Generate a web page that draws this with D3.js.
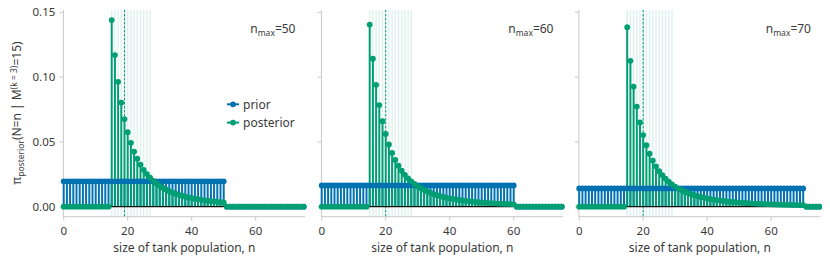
<!DOCTYPE html>
<html>
<head>
<meta charset="utf-8">
<script src="https://cdn.jsdelivr.net/npm/d3@7"></script>
<style>
  body { margin: 0; background: #fff; }
  text { font-family: "Noto Sans", "Open Sans", sans-serif; fill: #3a3a3a; }
</style>
</head>
<body>
<div id="chart"></div>
<script>
// values
var nmaxList = [50, 60, 70];
var priorLevel = [0.01961, 0.01639, 0.01408];
var firstN = 15;     // posterior is zero below the observed max serial
var lastN = 75;
var credible = [[15, 27], [15, 28], [15, 29]];
var medianN = [19, 20, 20];
var xTicks = [0, 20, 40, 60];
var yTicks = [0, 0.05, 0.10, 0.15];

// posterior for n = 15 .. nmax
var post50 = [0.14403, 0.11703, 0.09638, 0.08031, 0.06763, 0.05749, 0.04927, 0.04256, 0.03700, 0.03238,
  0.02849, 0.02521, 0.02241, 0.02000, 0.01794, 0.01614, 0.01458, 0.01321, 0.01201, 0.01095,
  0.01001, 0.00918, 0.00843, 0.00777, 0.00717, 0.00663, 0.00615, 0.00571, 0.00531, 0.00495,
  0.00462, 0.00432, 0.00404, 0.00379, 0.00356, 0.00334];
var post60 = [0.14056, 0.11420, 0.09405, 0.07838, 0.06600, 0.05610, 0.04809, 0.04153, 0.03611, 0.03160,
  0.02781, 0.02460, 0.02186, 0.01952, 0.01750, 0.01575, 0.01423, 0.01289, 0.01172, 0.01069,
  0.00977, 0.00896, 0.00823, 0.00758, 0.00700, 0.00647, 0.00600, 0.00557, 0.00518, 0.00483,
  0.00451, 0.00421, 0.00394, 0.00370, 0.00347, 0.00326, 0.00307, 0.00289, 0.00273, 0.00258,
  0.00244, 0.00231, 0.00219, 0.00207, 0.00197, 0.00187];
var post70 = [0.13855, 0.11257, 0.09271, 0.07726, 0.06506, 0.05530, 0.04740, 0.04094, 0.03560, 0.03115,
  0.02741, 0.02425, 0.02155, 0.01924, 0.01725, 0.01553, 0.01402, 0.01271, 0.01155, 0.01054,
  0.00963, 0.00883, 0.00811, 0.00747, 0.00690, 0.00638, 0.00591, 0.00549, 0.00511, 0.00476,
  0.00444, 0.00415, 0.00389, 0.00364, 0.00342, 0.00322, 0.00303, 0.00285, 0.00269, 0.00254,
  0.00240, 0.00227, 0.00215, 0.00204, 0.00194, 0.00184, 0.00175, 0.00167, 0.00159, 0.00151,
  0.00144, 0.00138, 0.00132, 0.00126, 0.00120, 0.00115];
var posteriors = [post50, post60, post70];

var blue = "#0072b2", green = "#009e73";
var W = 830, H = 266;
var panelLeft = [63.7, 321.7, 579.2];

var svg = d3.select("#chart").append("svg")
  .attr("width", W).attr("height", H);

var y = d3.scaleLinear().domain([0, 0.15]).range([206.7, 12.3]);
var yTop = 10, yBot = 216.7;

nmaxList.forEach(function(nmax, p) {
  var x = d3.scaleLinear().domain([0, 75]).range([panelLeft[p], panelLeft[p] + 240]);
  var g = svg.append("g");

  var ns = d3.range(0, lastN + 1);
  var data = ns.map(function(n) {
    return {
      n: n,
      prior: n <= nmax ? priorLevel[p] : 0,
      post: (n >= firstN && n <= nmax) ? posteriors[p][n - firstN] : 0
    };
  });

  // credible interval, faint lines
  g.selectAll("line.ci")
    .data(ns.filter(function(n) { return n >= credible[p][0] && n <= credible[p][1]; }))
    .enter().append("line")
    .attr("x1", function(d) { return x(d); }).attr("x2", function(d) { return x(d); })
    .attr("y1", yTop).attr("y2", yBot)
    .attr("stroke", green).attr("stroke-opacity", 0.13).attr("stroke-width", 1.5);

  // median
  g.append("line")
    .attr("x1", x(medianN[p])).attr("x2", x(medianN[p]))
    .attr("y1", yTop).attr("y2", yBot)
    .attr("stroke", green).attr("stroke-width", 1)
    .attr("stroke-dasharray", "2.5,1.5");

  // spines
  g.append("line").attr("x1", x(-0.1)).attr("x2", x(-0.1)).attr("y1", yTop).attr("y2", yBot)
    .attr("stroke", "#c8c8c8").attr("stroke-width", 1);
  g.append("line").attr("x1", x(-0.1)).attr("x2", x(75.4)).attr("y1", yBot).attr("y2", yBot)
    .attr("stroke", "#c8c8c8").attr("stroke-width", 1);

  // x ticks
  var xt = g.selectAll("g.xt").data(xTicks).enter().append("g")
    .attr("transform", function(d) { return "translate(" + x(d) + ",0)"; });
  xt.append("line").attr("y1", yBot).attr("y2", yBot + 4).attr("stroke", "#c8c8c8");
  xt.append("text").attr("y", 235).attr("text-anchor", "middle")
    .style("font-size", "11.5px").text(function(d) { return d; });

  g.append("text").attr("x", x(37.7)).attr("y", 251.5).attr("text-anchor", "middle")
    .style("font-size", "12px").text("size of tank population, n");

  // y ticks
  var yt = g.selectAll("g.yt").data(yTicks).enter().append("g")
    .attr("transform", function(d) { return "translate(0," + y(d) + ")"; });
  yt.append("line").attr("x1", x(-0.1)).attr("x2", x(-0.1) - 4).attr("stroke", "#c8c8c8");
  if (p === 0) {
    yt.append("text").attr("x", x(-0.1) - 8).attr("dy", "0.35em").attr("text-anchor", "end")
      .style("font-size", "11.5px").text(function(d) { return d3.format(".2f")(d); });
  }

  // prior stems
  g.selectAll("line.ps").data(data.filter(function(d) { return d.prior > 0; }))
    .enter().append("line")
    .attr("x1", function(d) { return x(d.n); }).attr("x2", function(d) { return x(d.n); })
    .attr("y1", y(0)).attr("y2", function(d) { return y(d.prior); })
    .attr("stroke", blue).attr("stroke-width", 2);

  // posterior stems
  g.selectAll("line.qs").data(data.filter(function(d) { return d.post > 0; }))
    .enter().append("line")
    .attr("x1", function(d) { return x(d.n); }).attr("x2", function(d) { return x(d.n); })
    .attr("y1", y(0)).attr("y2", function(d) { return y(d.post); })
    .attr("stroke", green).attr("stroke-width", 2);

  // baseline
  g.append("line").attr("x1", x(0)).attr("x2", x(nmax)).attr("y1", y(0)).attr("y2", y(0))
    .attr("stroke", "#111").attr("stroke-width", 1.2);

  g.selectAll("circle.pd").data(data).enter().append("circle")
    .attr("cx", function(d) { return x(d.n); }).attr("cy", function(d) { return y(d.prior); })
    .attr("r", 2.9).attr("fill", blue);
  g.selectAll("circle.qd").data(data).enter().append("circle")
    .attr("cx", function(d) { return x(d.n); }).attr("cy", function(d) { return y(d.post); })
    .attr("r", 2.9).attr("fill", green);

  // n_max label
  var t = g.append("text").attr("x", x(58.3)).attr("y", 33).style("font-size", "12px");
  t.append("tspan").text("n");
  t.append("tspan").attr("dy", 2.5).style("font-size", "8.5px").text("max");
  t.append("tspan").attr("dy", -2.5).text("=" + nmax);
});

// legend
var legend = [["prior", blue], ["posterior", green]];
var lg = svg.selectAll("g.lg").data(legend).enter().append("g")
  .attr("transform", function(d, i) { return "translate(227," + (104.3 + i * 18.3) + ")"; });
lg.append("line").attr("x1", 0).attr("x2", 12).attr("stroke", function(d) { return d[1]; })
  .attr("stroke-width", 2);
lg.append("circle").attr("cx", 6).attr("r", 2.9).attr("fill", function(d) { return d[1]; });
lg.append("text").attr("x", 16).attr("dy", "0.35em").style("font-size", "12px")
  .text(function(d) { return d[0]; });

// y axis label
var yl = svg.append("text")
  .attr("transform", "translate(21,113) rotate(-90)")
  .attr("text-anchor", "middle").style("font-size", "12px");
yl.append("tspan").text("π");
yl.append("tspan").attr("dy", 2.5).style("font-size", "8.5px").text("posterior");
yl.append("tspan").attr("dy", -2.5).text("(N=n | M");
yl.append("tspan").attr("dy", -4.5).style("font-size", "8.5px").text("(k = 3)");
yl.append("tspan").attr("dy", 4.5).text("=15)");
</script>
</body>
</html>
